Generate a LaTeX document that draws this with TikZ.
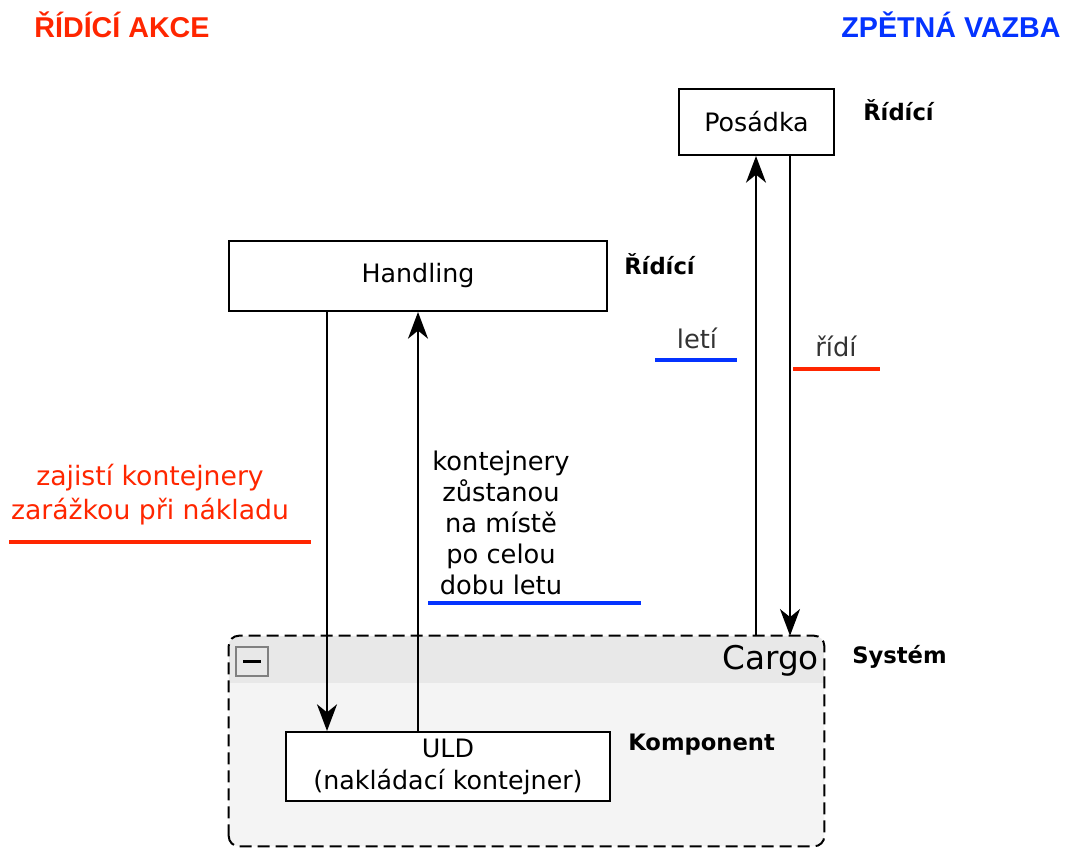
\documentclass[tikz,border=0pt]{standalone}
\usepackage{fontspec}
\setmainfont{DejaVu Sans}
\newfontfamily\titlefont{Liberation Sans}
\usetikzlibrary{arrows.meta,fit,calc}
\definecolor{actred}{RGB}{255,38,0}
\definecolor{fbblue}{RGB}{4,51,255}
\definecolor{hdrgray}{RGB}{232,232,232}
\definecolor{bodygray}{RGB}{244,244,244}
\begin{document}
\begin{tikzpicture}[x=0.75pt,y=-0.75pt,
  box/.style={draw=black,line width=1.5pt,fill=white,inner sep=0pt,align=center,
    font=\fontsize{19}{24}\selectfont},
  heading/.style={font=\titlefont\bfseries\fontsize{21.5}{26}\selectfont,inner sep=0pt},
  role/.style={font=\bfseries\fontsize{17}{20}\selectfont,anchor=west,inner sep=0pt},
  lbl/.style={font=\fontsize{19.3}{23.4}\selectfont,align=center,inner sep=0pt},
  flow/.style={line width=1.5pt,-{Stealth[length=20pt,width=15pt,inset=6pt]}},
  uline/.style={line width=2.6pt}]
\useasboundingbox (0,0) rectangle (1069,848);

% headings
\node[heading,text=actred] (hAction) at (122,25) {ŘÍDÍCÍ AKCE};
\node[heading,text=fbblue] (hFeedback) at (951,25) {ZPĚTNÁ VAZBA};

% Cargo system container
\node[fit={(229,636) (824,846)},inner sep=0pt] (cargo) {};
\fill[bodygray,rounded corners=7.5pt] (cargo.south west) rectangle (cargo.north east);
\begin{scope}
  \clip[rounded corners=7.5pt] (cargo.south west) rectangle (cargo.north east);
  \fill[hdrgray] (229,636) rectangle (824,683);
\end{scope}
\draw[line width=1.5pt,dash pattern=on 9pt off 4.5pt,rounded corners=7.5pt]
  (cargo.south west) rectangle (cargo.north east);
\node[anchor=east,inner sep=0pt,font=\fontsize{24.5}{28}\selectfont] (cargoName) at (819,661) {Cargo};
% collapse button
\node[fit={(236,647) (268,676)},inner sep=0pt,draw=gray,fill=hdrgray,line width=1pt] (collapse) {};
\draw[line width=2.6pt] ($(collapse.west)+(8,0)$) -- ($(collapse.east)+(-8,0)$);
\node[role] (rSys) at (852,657) {Systém};

% controllers and component
\node[box,minimum width=116.25pt,minimum height=49.5pt] (crew) at (756.5,122) {Posádka};
\node[role] (rCrew) at (863,110) {Řídící};
\node[box,minimum width=283.5pt,minimum height=52.5pt] (hand) at (418,276) {Handling};
\node[role] (rHand) at (624,264) {Řídící};
\node[box,minimum width=243pt,minimum height=51.75pt] (uld) at (448,766.5) {ULD\\(nakládací kontejner)};
\node[role] (rUld) at (628,745) {Komponent};

% control / feedback connectors
\coordinate (xA) at (327,0);
\coordinate (xB) at (418,0);
\coordinate (xC) at (756,0);
\coordinate (xD) at (790,0);
\draw[flow] (hand.south -| xA) -- (uld.north -| xA);
\draw[flow] (uld.north -| xB) -- (hand.south -| xB);
\draw[flow] (cargo.north -| xC) -- (crew.south -| xC);
\draw[flow] (crew.south -| xD) -- (cargo.north -| xD);

% connector labels
\node[lbl,text=actred,font=\fontsize{20}{25.5}\selectfont] (tSecure) at (150,495) {zajistí kontejnery\\zarážkou při nákladu};
\draw[uline,actred] (9,542) -- (311,542);
\node[lbl] (tStay) at (501,523) {kontejnery\\zůstanou\\na místě\\po celou\\dobu letu};
\draw[uline,fbblue] (428,603) -- (641,603);
\node[lbl,text=black!80] (tFly) at (697,338) {letí};
\draw[uline,fbblue] (655,360) -- (737,360);
\node[lbl,text=black!80] (tCtrl) at (836,346) {řídí};
\draw[uline,actred] (793,369) -- (880,369);
\end{tikzpicture}
\end{document}
